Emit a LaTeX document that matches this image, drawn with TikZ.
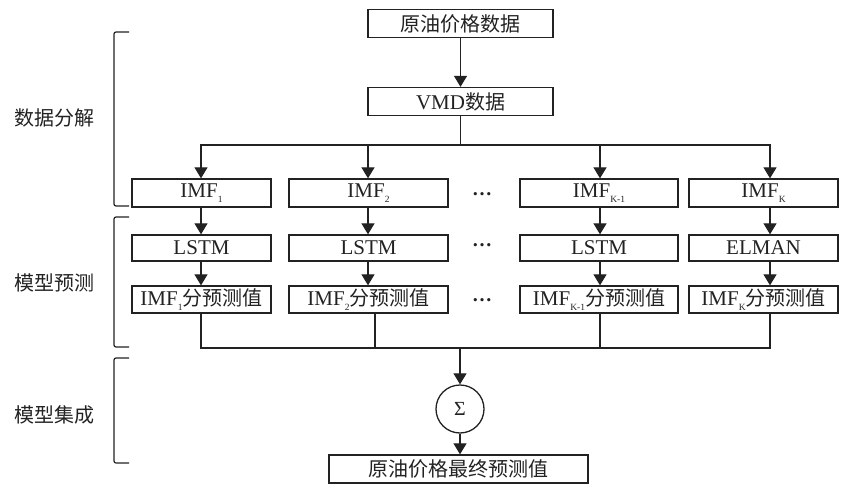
\documentclass[tikz,border=0pt]{standalone}
\usepackage{fontspec}
\setmainfont{Liberation Serif}
\newfontfamily\cjk{Noto Sans CJK SC}
\usetikzlibrary{arrows.meta,calc}
\newcommand{\sbs}[1]{\raisebox{-0.5ex}{\fontsize{9.5}{9.5}\selectfont #1}}
\definecolor{ink}{HTML}{222222}
\begin{document}
\begin{tikzpicture}[x=1pt,y=-1pt,
 box/.style={draw=ink, line width=1.3pt, minimum height=28pt, inner sep=0pt, text=ink, font=\fontsize{21}{21}\selectfont},
 arr/.style={draw=ink, line width=1.2pt, -{Triangle[length=11pt,width=13pt]}},
 ln/.style={draw=ink, line width=1.2pt},
 brk/.style={draw=ink, line width=1.2pt, rounded corners=2pt},
 lab/.style={text=ink, font=\cjk\fontsize{20}{20}\selectfont},
 dots/.style={text=ink, anchor=base, inner sep=0pt, font=\fontsize{20}{20}\selectfont\bfseries}]
\useasboundingbox (0,0) rectangle (843,484);
% main boxes
\node[box, minimum width=185pt] (top) at (460.5,23.5) {{\cjk\fontsize{20}{20}\selectfont 原油价格数据}};
\node[box, minimum width=185pt] (vmd) at (460.5,101.5) {VMD{\cjk\fontsize{20}{20}\selectfont 数据}};
% row 1
\node[box, minimum width=139pt] (imf1) at (201.5,193) {IMF\sbs{1}};
\node[box, minimum width=159pt] (imf2) at (368.5,193) {IMF\sbs{2}};
\node[box, minimum width=158pt] (imf3) at (599,193) {IMF\sbs{K-1}};
\node[box, minimum width=149pt] (imf4) at (763.5,193) {IMF\sbs{K}};
% row 2
\node[box, minimum width=139pt, minimum height=26pt] (m1) at (201.5,248) {LSTM};
\node[box, minimum width=159pt, minimum height=26pt] (m2) at (368.5,248) {LSTM};
\node[box, minimum width=158pt, minimum height=26pt] (m3) at (599,248) {LSTM};
\node[box, minimum width=149pt, minimum height=26pt] (m4) at (763.5,248) {ELMAN};
% row 3
\node[box, minimum width=139pt, minimum height=27pt] (p1) at (201.5,299.5) {IMF\sbs{1}{\cjk\fontsize{20}{20}\selectfont 分预测值}};
\node[box, minimum width=159pt, minimum height=27pt] (p2) at (368.5,299.5) {IMF\sbs{2}{\cjk\fontsize{20}{20}\selectfont 分预测值}};
\node[box, minimum width=158pt, minimum height=27pt] (p3) at (599,299.5) {IMF\sbs{K-1}{\cjk\fontsize{20}{20}\selectfont 分预测值}};
\node[box, minimum width=149pt, minimum height=27pt] (p4) at (763.5,299.5) {IMF\sbs{K}{\cjk\fontsize{20}{20}\selectfont 分预测值}};
% dots
\node[dots] (d1) at (482,195) {…};
\node[dots] (d2) at (482,246) {…};
\node[dots] (d3) at (482,301) {…};
% sum and final
\node[draw=ink, circle, line width=1.3pt, minimum size=48pt, inner sep=0pt, text=ink, font=\fontsize{20}{20}\selectfont] (sum) at (460,409) {Σ};
\node[box, minimum width=259pt] (fin) at (458.5,469) {{\cjk\fontsize{20}{20}\selectfont 原油价格最终预测值}};
% column coordinates
\coordinate (c1) at (201,0);
\coordinate (c2) at (368,0);
\coordinate (c2b) at (375,0);
\coordinate (c3) at (600,0);
\coordinate (c4) at (770,0);
\coordinate (br) at (460.5,145);
\coordinate (bl) at (460,348);
% connectors
\draw[arr] (top) -- (vmd);
\draw[ln] (vmd) -- (br);
\draw[arr] (br) -| (imf1.north -| c1);
\draw[arr] (br) -| (imf4.north -| c4);
\draw[arr] (br -| c2) -- (imf2.north -| c2);
\draw[arr] (br -| c3) -- (imf3.north -| c3);
\foreach \i/\c in {1/c1,2/c2,3/c3,4/c4}{
  \draw[arr] (imf\i.south -| \c) -- (m\i.north -| \c);
  \draw[arr] (m\i.south -| \c) -- (p\i.north -| \c);
}
\draw[ln] (p1.south -| c1) |- (bl);
\draw[ln] (p4.south -| c4) |- (bl);
\draw[ln] (p2.south -| c2b) -- (bl -| c2b);
\draw[ln] (p3.south -| c3) -- (bl -| c3);
\draw[arr] (bl) -- (sum);
\draw[arr] (sum) -- (fin.north -| sum);
% brackets
\draw[brk] (129,32) -- (114,32) -- (114,206) -- (129,206);
\draw[brk] (129,217) -- (114,217) -- (114,347) -- (129,347);
\draw[brk] (129,358) -- (114,358) -- (114,463) -- (129,463);
% labels
\node[lab] (l1) at (54,118) {数据分解};
\node[lab] (l2) at (54,283) {模型预测};
\node[lab] (l3) at (54,415) {模型集成};
\end{tikzpicture}
\end{document}
